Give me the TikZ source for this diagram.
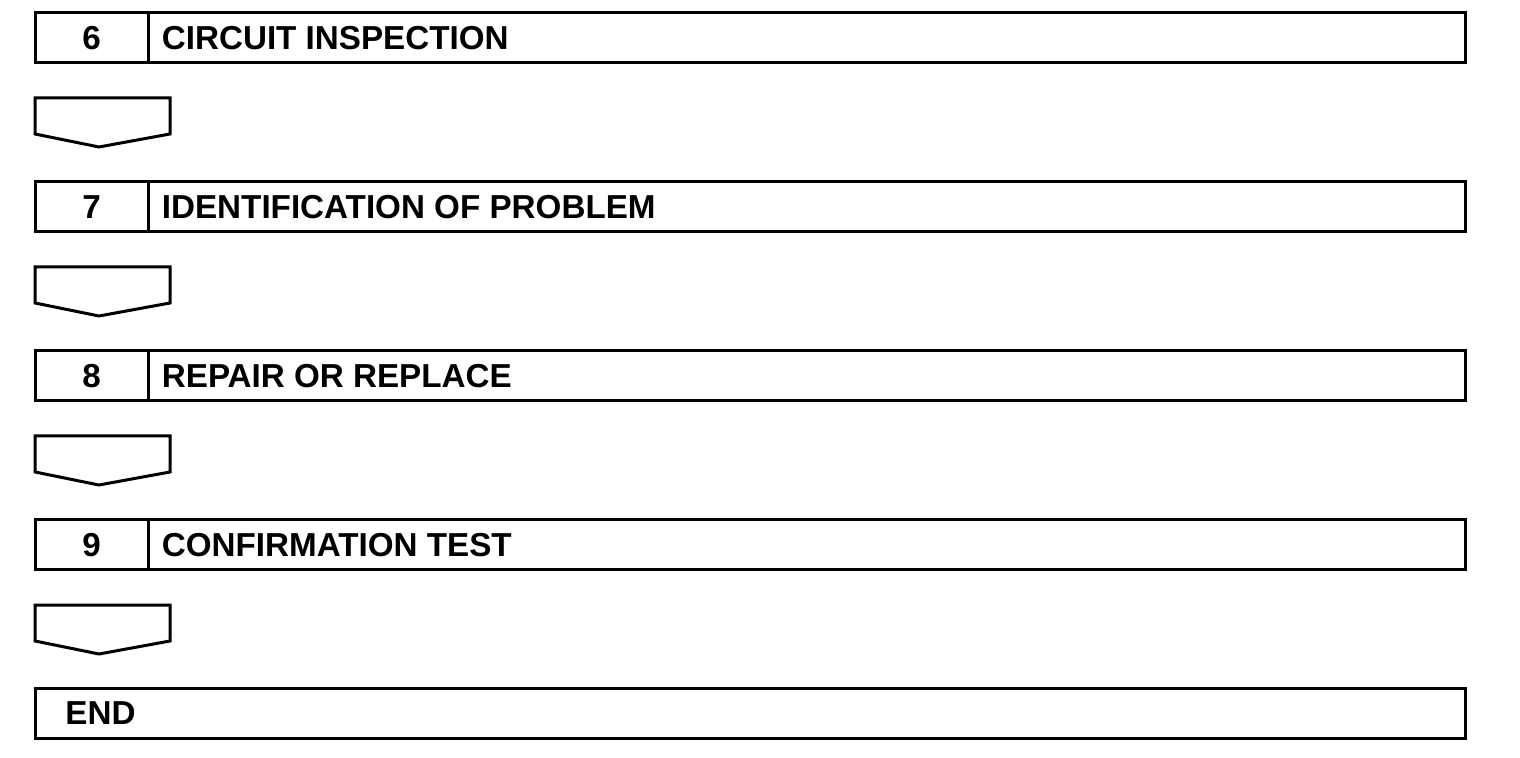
\documentclass[tikz,border=0pt]{standalone}
\usepackage{fontspec}
\setmainfont{Liberation Sans}
\usetikzlibrary{positioning}
\tikzset{
  stepbox/.style={draw, line width=1.5pt, minimum width=715pt, minimum height=25pt, inner sep=0pt},
  numbox/.style={draw, line width=1.5pt, minimum width=56.5pt, minimum height=25pt, inner sep=0pt,
    font=\fontsize{16.6}{19}\selectfont\bfseries},
  steptext/.style={inner sep=0pt, font=\fontsize{16.6}{19}\selectfont\bfseries},
  downarrow/.style={draw, line width=1.5pt, line join=miter}
}

\begin{document}
\begin{tikzpicture}[x=0.5pt, y=-0.5pt]
		\useasboundingbox (0,0) rectangle (1520,758);
		% step boxes
		\node[stepbox] (b6) at (750,38) {};
		\node[stepbox] (b7) at (750,207) {};
		\node[stepbox] (b8) at (750,376) {};
		\node[stepbox] (b9) at (750,545) {};
		\node[stepbox] (bend) at (750,713) {};
		% step numbers
		\node[numbox] (n6) at (91.5,38) {6};
		\node[numbox] (n7) at (91.5,207) {7};
		\node[numbox] (n8) at (91.5,376) {8};
		\node[numbox] (n9) at (91.5,545) {9};
		% step titles
		\node[steptext, right=6pt of n6] (t6) {CIRCUIT INSPECTION};
		\node[steptext, right=6pt of n7] (t7) {IDENTIFICATION OF PROBLEM};
		\node[steptext, right=6pt of n8] (t8) {REPAIR OR REPLACE};
		\node[steptext, right=6pt of n9] (t9) {CONFIRMATION TEST};
		\node[steptext, anchor=west] (tend) at (65,713) {END};
		%
		% arrows between steps
		\foreach \dy in {0,169,338,507}
			\draw[downarrow, yshift=-\dy*0.5pt]
				(35,98) -- (170,98) -- (170,134) -- (99,147) -- (35,134) -- cycle;
	\end{tikzpicture}
\end{document}
